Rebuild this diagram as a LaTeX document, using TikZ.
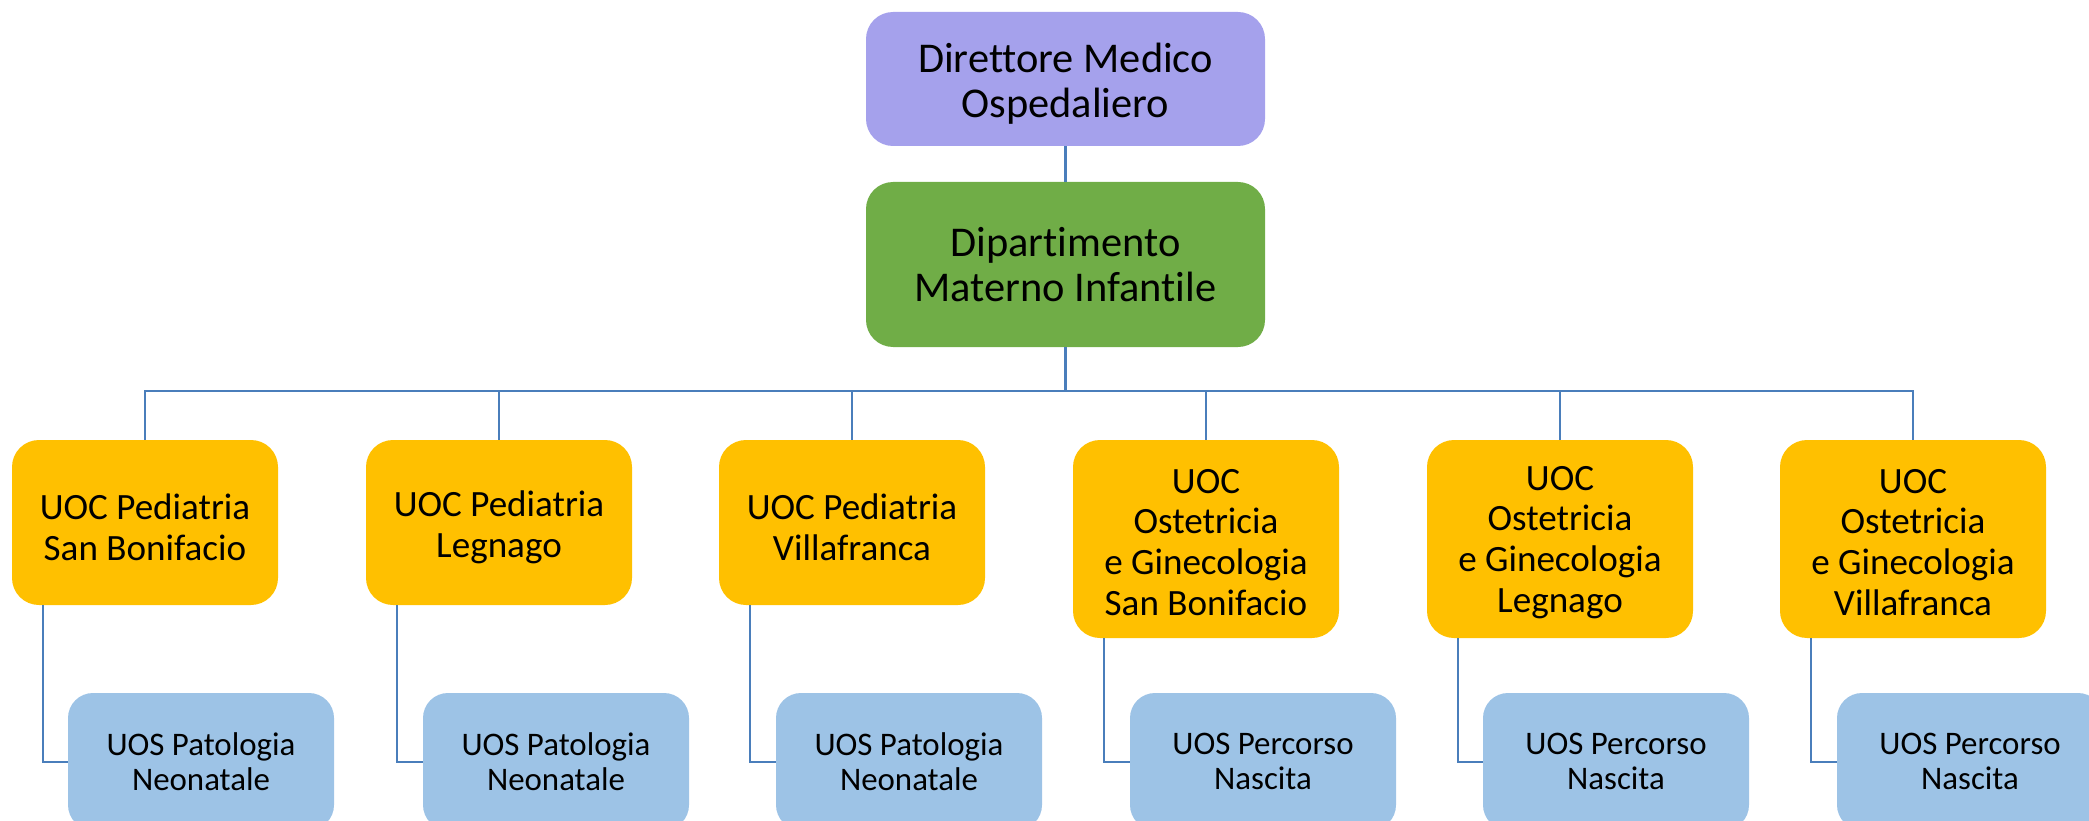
\documentclass[tikz,border=0pt]{standalone}
\usepackage{fontspec}
\setmainfont[Ligatures=NoCommon]{Carlito}
\definecolor{topfill}{HTML}{A5A1EC}
\definecolor{greenfill}{HTML}{70AD47}
\definecolor{orangefill}{HTML}{FFC000}
\definecolor{bluefill}{HTML}{9DC3E6}
\definecolor{linecol}{HTML}{4A7EBB}
\newcommand{\lift}[1]{\rule{0pt}{#1}}
\tikzset{
  box/.style={rectangle, rounded corners=27pt, align=center, inner sep=0pt, text=black, minimum width=266pt},
  topbox/.style={box, fill=topfill, minimum width=399pt, minimum height=134pt, font=\fontsize{42.4pt}{45pt}\selectfont},
  deptbox/.style={box, fill=greenfill, minimum width=399pt, minimum height=165pt, font=\fontsize{42.4pt}{45pt}\selectfont},
  uocbox/.style={box, fill=orangefill, font=\fontsize{37.1pt}{40.8pt}\selectfont},
  uosbox/.style={box, fill=bluefill, rounded corners=25pt, minimum height=137pt, font=\fontsize{32.9pt}{35pt}\selectfont},
  conn/.style={draw=linecol, line width=2pt},
}
\begin{document}
\begin{tikzpicture}[x=1pt,y=-1pt]
\useasboundingbox (0,0) rectangle (2089,821);
\clip (0,0) rectangle (2089,821);
\node[topbox] (dir) at (1065.5,79) {\lift{38pt}Direttore Medico\\Ospedaliero};
\node[deptbox] (dep) at (1065.5,264.5) {Dipartimento\\Materno Infantile};
\coordinate (bus) at (1065.5,391);

\node[uocbox, minimum height=165pt] (o1) at (145,522.5) {\lift{35pt}UOC Pediatria\\San Bonifacio};
\node[uocbox, minimum height=165pt] (o2) at (499,522.5) {\lift{35pt}UOC Pediatria\\Legnago};
\node[uocbox, minimum height=165pt] (o3) at (852,522.5) {\lift{35pt}UOC Pediatria\\Villafranca};
\node[uocbox, minimum height=198pt] (o4) at (1206,539) {\lift{31pt}UOC\\Ostetricia\\e Ginecologia\\San Bonifacio};
\node[uocbox, minimum height=198pt] (o5) at (1560,539) {\lift{31pt}UOC\\Ostetricia\\e Ginecologia\\Legnago};
\node[uocbox, minimum height=198pt] (o6) at (1913,539) {\lift{31pt}UOC\\Ostetricia\\e Ginecologia\\Villafranca};

\node[uosbox] (b1) at (201,761.5) {UOS Patologia\\Neonatale};
\node[uosbox] (b2) at (556,761.5) {UOS Patologia\\Neonatale};
\node[uosbox] (b3) at (909,761.5) {UOS Patologia\\Neonatale};
\node[uosbox] (b4) at (1263,761.5) {UOS Percorso\\Nascita};
\node[uosbox] (b5) at (1616,761.5) {UOS Percorso\\Nascita};
\node[uosbox] (b6) at (1970,761.5) {UOS Percorso\\Nascita};

\draw[conn, line width=2.4pt] (dir.south) -- (dep.north);
\draw[conn, line width=3.4pt] (dep.south) -- (bus);
\foreach \i in {1,...,6} {
  \draw[conn] (bus) -| (o\i.north);
  \draw[conn] ([xshift=31pt]o\i.south west) |- (b\i.west);
}
\end{tikzpicture}
\end{document}
